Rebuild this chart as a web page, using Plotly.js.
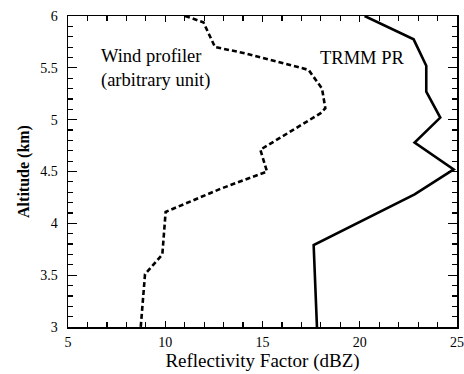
<!DOCTYPE html>
<html><head><meta charset="utf-8">
<script src="https://cdn.plot.ly/plotly-3.0.1.min.js"></script>
<style>html,body{margin:0;padding:0;background:#fff}#c{width:464px;height:374px}</style>
</head><body><div id="c"></div>
<script>
const prX = [20.25, 22.77, 23.42, 23.42, 24.14, 22.82, 24.83, 22.82, 17.63, 17.80];
const prY = [6.00, 5.775, 5.52, 5.27, 5.02, 4.78, 4.52, 4.28, 3.79, 3.00];
const wpX = [11.02, 11.96, 12.56, 14.12, 17.37, 18.06, 18.23, 17.97, 14.89, 15.23, 12.8, 10.02, 9.85, 8.96, 8.74];
const wpY = [6.00, 5.94, 5.70, 5.64, 5.48, 5.30, 5.11, 5.06, 4.71, 4.50, 4.33, 4.11, 3.70, 3.51, 3.00];
const font = "Liberation Serif";
const traces = [
  {x: prX, y: prY, mode: 'lines', line: {color: '#000', width: 2.6}, hoverinfo: 'none'},
  {x: wpX, y: wpY, mode: 'lines', line: {color: '#000', width: 2.6, dash: '5px,3px'}, hoverinfo: 'none'}
];
const axBase = {showgrid: false, zeroline: false, showline: true, linecolor: '#000', linewidth: 1.5,
  mirror: 'allticks', ticks: 'inside', tickcolor: '#000', tickwidth: 1.2, tickfont: {family: font, size: 14, color: '#000'}};
const layout = {
  width: 464, height: 374, margin: {l: 68, r: 7, t: 16, b: 47},
  paper_bgcolor: '#fff', plot_bgcolor: '#fff', showlegend: false,
  font: {family: font, color: '#000'},
  xaxis: Object.assign({}, axBase, {range: [5, 25], dtick: 5, tick0: 5, ticklen: 6, ticklabelstandoff: 2,
    minor: {dtick: 1, ticks: 'inside', ticklen: 5, tickcolor: '#000', tickwidth: 1.2},
    title: {text: 'Reflectivity Factor (dBZ)', font: {family: font, size: 19, color: '#000'}, standoff: 2}}),
  yaxis: Object.assign({}, axBase, {range: [3, 6], dtick: 0.5, tick0: 3, ticklen: 9, ticklabelstandoff: 6,
    minor: {dtick: 0.1, ticks: 'inside', ticklen: 5, tickcolor: '#000', tickwidth: 1.2},
    title: {text: '<b>Altitude (km)</b>', font: {family: font, size: 16, color: '#000'}, standoff: 6}}),
  annotations: [
    {xref: 'paper', yref: 'paper', x: 0.224, y: 0.83, text: 'Wind profiler<br>(arbitrary unit)', showarrow: false,
     align: 'left', xanchor: 'center', yanchor: 'middle', font: {family: font, size: 18.5, color: '#000'}},
    {xref: 'paper', yref: 'paper', x: 0.757, y: 0.865, text: 'TRMM PR', showarrow: false,
     xanchor: 'center', yanchor: 'middle', font: {family: font, size: 18.5, color: '#000'}}
  ]
};
Plotly.newPlot('c', traces, layout, {staticPlot: true, displayModeBar: false});
</script></body></html>
